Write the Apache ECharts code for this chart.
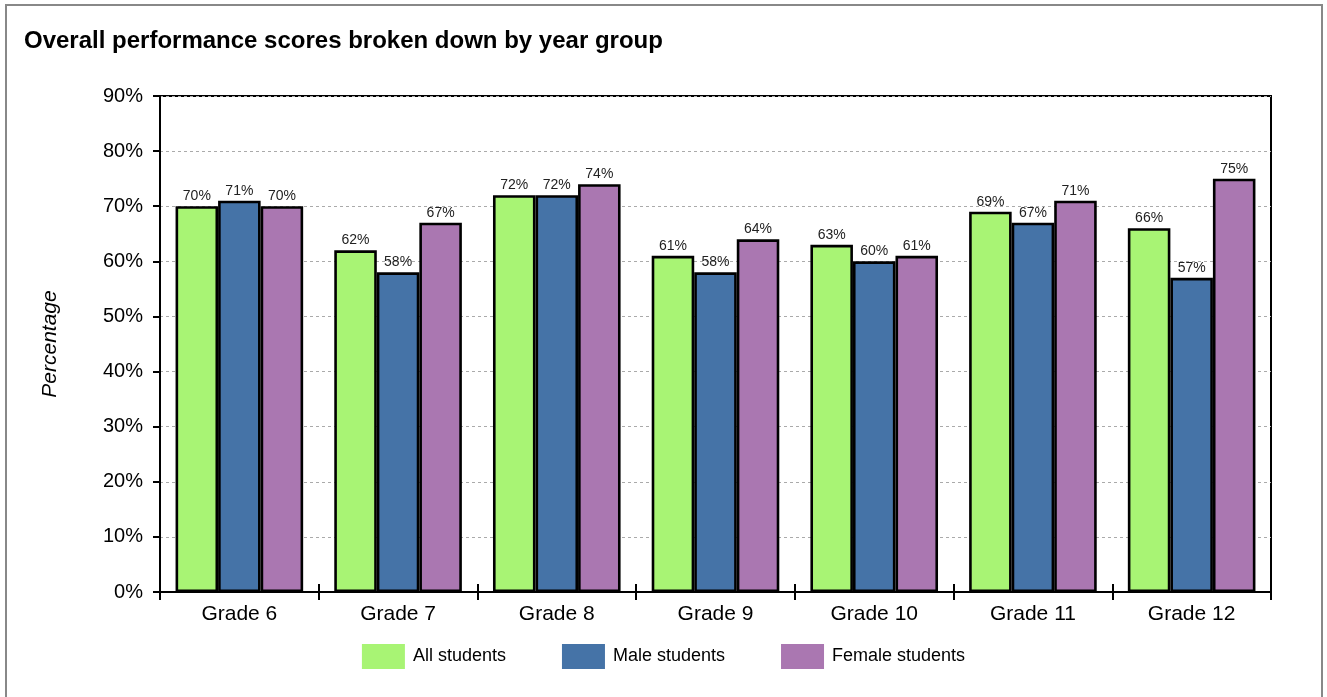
<!DOCTYPE html>
<html>
<head>
<meta charset="utf-8">
<script src="https://cdn.jsdelivr.net/npm/echarts@6/dist/echarts.min.js"></script>
<style>
  html, body { margin: 0; padding: 0; background: #fff; }
  #chart { width: 1327px; height: 697px; }
</style>
</head>
<body>
<div id="chart"></div>
<script>
// Grade categories along the x axis
const grades = ['Grade 6', 'Grade 7', 'Grade 8', 'Grade 9', 'Grade 10', 'Grade 11', 'Grade 12'];

// Performance scores (%) per group
const allStudents    = [70, 62, 72, 61, 63, 69, 66];
const maleStudents   = [71, 58, 72, 58, 60, 67, 57];
const femaleStudents = [70, 67, 74, 64, 61, 71, 75];

const seriesNames = ['All students', 'Male students', 'Female students'];
const seriesColors = ['#a8f474', '#4573a7', '#aa77b1'];

const FONT = 'Liberation Sans, Arial, sans-serif';

const chart = echarts.init(document.getElementById('chart'), null, { renderer: 'canvas' });

function barSeries(name, data, color) {
  return {
    name: name,
    type: 'bar',
    xAxisIndex: 0,
    data: data,
    barWidth: '26.8%',
    barGap: '0%',
    itemStyle: { color: color, borderColor: '#000', borderWidth: 2.6 },
    label: {
      show: true,
      position: 'top',
      distance: 3,
      fontFamily: FONT,
      fontSize: 14,
      color: '#222',
      formatter: p => p.value + '%'
    }
  };
}

chart.setOption({
  animation: false,
  backgroundColor: '#fff',
  title: {
    text: 'Overall performance scores broken down by year group',
    left: 19,
    top: 24,
    textStyle: { fontFamily: FONT, fontSize: 24, fontWeight: 'bold', color: '#000' }
  },
  graphic: [{
    // page frame, its bottom edge runs past the canvas
    type: 'rect',
    shape: { x: 6, y: 5, width: 1316, height: 700 },
    style: { fill: 'none', stroke: '#888', lineWidth: 2 },
    z: -1
  }],
  legend: {
    data: seriesNames,
    top: 639,
    left: 'center',
    itemWidth: 43,
    itemHeight: 25,
    itemGap: 56,
    icon: 'rect',
    itemStyle: { borderWidth: 0 },
    textStyle: { fontFamily: FONT, fontSize: 18, color: '#000', padding: [0, 0, 0, 3] }
  },
  grid: {
    left: 160, right: 56, top: 96, bottom: 105,
    show: true,
    borderColor: '#000',
    borderWidth: 2,
    backgroundColor: 'transparent'
  },
  xAxis: [{
    type: 'category',
    data: grades,
    position: 'bottom',
    axisLine: { show: true, lineStyle: { color: '#000', width: 2 } },
    axisTick: { show: true, length: 8, lineStyle: { color: '#000', width: 2 } },
    axisLabel: { fontFamily: FONT, fontSize: 21, color: '#000', margin: 12 },
    splitLine: { show: false }
  }, {
    // inner half of the category ticks, so they cross the axis line
    type: 'category',
    data: grades,
    position: 'bottom',
    axisLine: { show: false },
    axisTick: { show: true, inside: true, length: 8, lineStyle: { color: '#000', width: 2 } },
    axisLabel: { show: false },
    splitLine: { show: false }
  }],
  yAxis: {
    type: 'value',
    min: 0,
    max: 90,
    interval: 10,
    name: 'Percentage',
    nameLocation: 'middle',
    nameGap: 99,
    nameTextStyle: { fontFamily: FONT, fontSize: 21, fontStyle: 'italic', color: '#000' },
    axisLine: { show: true, lineStyle: { color: '#000', width: 2 } },
    axisTick: { show: true, length: 7, lineStyle: { color: '#000', width: 2 } },
    axisLabel: { fontFamily: FONT, fontSize: 20, color: '#000', margin: 17, formatter: v => v + '%' },
    splitLine: { show: true, lineStyle: { color: '#aaa', width: 1, type: [3, 3] } }
  },
  series: [
    barSeries(seriesNames[0], allStudents, seriesColors[0]),
    barSeries(seriesNames[1], maleStudents, seriesColors[1]),
    barSeries(seriesNames[2], femaleStudents, seriesColors[2])
  ]
});
</script>
</body>
</html>
